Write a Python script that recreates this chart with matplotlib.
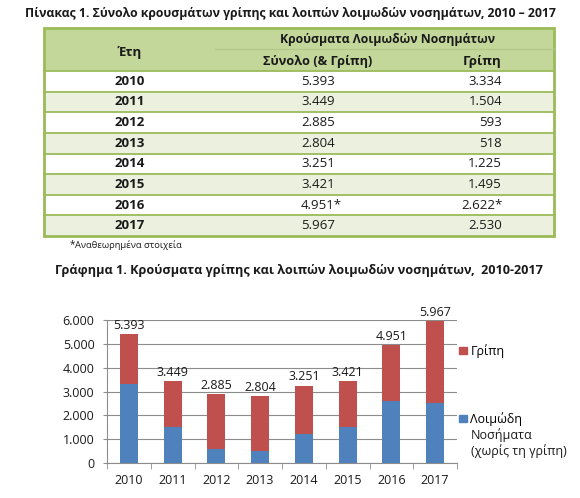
import matplotlib
matplotlib.use("Agg")
import matplotlib.pyplot as plt
from matplotlib.patches import Rectangle, Patch

plt.rcParams['font.family'] = ['Open Sans', 'DejaVu Sans']

# ---------------- data ----------------
years = ['2010', '2011', '2012', '2013', '2014', '2015', '2016', '2017']
total_cases = [5393, 3449, 2885, 2804, 3251, 3421, 4951, 5967]
flu_cases = [3334, 1504, 593, 518, 1225, 1495, 2622, 2530]
revised = [False, False, False, False, False, False, True, False]
y_ticks = [0, 1000, 2000, 3000, 4000, 5000, 6000]

table_title = "Πίνακας 1. Σύνολο κρουσμάτων γρίπης και λοιπών λοιμωδών νοσημάτων, 2010 – 2017"
chart_title = "Γράφημα 1. Κρούσματα γρίπης και λοιπών λοιμωδών νοσημάτων,  2010-2017"
col_year = "Έτη"
col_group = "Κρούσματα Λοιμωδών Νοσημάτων"
col_total = "Σύνολο (& Γρίπη)"
col_flu = "Γρίπη"
footnote = "Αναθεωρημένα στοιχεία"
legend_red = "Γρίπη"
legend_blue_lines = ["Λοιμώδη", "Νοσήματα", "(χωρίς τη γρίπη)"]


def fmt(v):
    return f"{v:,}".replace(",", ".")


W, H = 580, 498
fig = plt.figure(figsize=(W / 100, H / 100), dpi=100)
fig.patch.set_facecolor('white')

# overlay axes in pixel coordinates (y downward)
ov = fig.add_axes([0, 0, 1, 1])
ov.set_xlim(0, W)
ov.set_ylim(H, 0)
ov.axis('off')

renderer = fig.canvas.get_renderer()


def fit(t, width):
    bb = t.get_window_extent(renderer=renderer)
    t.set_fontsize(t.get_fontsize() * width / bb.width)


def left_px(t):
    bb = t.get_window_extent(renderer=renderer)
    return ov.transData.inverted().transform((bb.x0, bb.y0))[0]


txt = '#1a1a1a'
# ---------- table ----------
t = ov.text(25, 13, table_title, fontsize=10, fontweight='bold', ha='left', va='center', color=txt)
fit(t, 530)

green_border = '#9bbb59'
header_bg = '#c4d79b'
alt_bg = '#ebf1de'
tl, tr = 44, 554
ttop, hbot = 28, 71
row_h = (236 - 71) / 8

ov.add_patch(Rectangle((tl, ttop), tr - tl, hbot - ttop, facecolor=header_bg, edgecolor='none'))
for i in range(len(years)):
    y0 = hbot + i * row_h
    fc = 'white' if i % 2 == 0 else alt_bg
    ov.add_patch(Rectangle((tl, y0), tr - tl, row_h, facecolor=fc, edgecolor='none'))
    ov.plot([tl, tr], [y0, y0], color=green_border, lw=1.3)
ov.plot([215, tr], [49, 49], color='#b3c987', lw=1.0)
ov.add_patch(Rectangle((tl, ttop), tr - tl, hbot + 8 * row_h - ttop, facecolor='none',
                       edgecolor=green_border, lw=2.0))

cell_fs = 9.5
ov.text(130, 52, col_year, fontsize=cell_fs, fontweight='bold', ha='center', va='center', color=txt)
t = ov.text(388, 39, col_group, fontsize=cell_fs, fontweight='bold', ha='center', va='center', color=txt)
fit(t, 217)
ov.text(318, 61, col_total, fontsize=9.2, fontweight='bold', ha='center', va='center', color=txt)
ov.text(502, 61, col_flu, fontsize=cell_fs, fontweight='bold', ha='right', va='center', color=txt)

for i, (yr, tot, flu, rev) in enumerate(zip(years, total_cases, flu_cases, revised)):
    yc = hbot + (i + 0.5) * row_h
    ov.text(130, yc, yr, fontsize=cell_fs, fontweight='bold', ha='center', va='center', color=txt)
    t1 = ov.text(318, yc, fmt(tot), fontsize=cell_fs, ha='center', va='center', color=txt)
    if rev:
        x0 = left_px(t1)
        t1.set_text(fmt(tot) + '*')
        t1.set_ha('left')
        t1.set_x(x0)
        ov.text(503, yc, fmt(flu) + '*', fontsize=cell_fs, ha='right', va='center', color=txt)
    else:
        ov.text(502, yc, fmt(flu), fontsize=cell_fs, ha='right', va='center', color=txt)

ov.text(70, 245, '*', fontsize=7, ha='left', va='center', color=txt)
t = ov.text(75, 245, footnote, fontsize=7, ha='left', va='center', color=txt)
fit(t, 106)

t = ov.text(55, 270, chart_title, fontsize=9, fontweight='bold', ha='left', va='center', color=txt)
fit(t, 485)

# ---------- chart ----------
ax = fig.add_axes([107 / W, 1 - 463 / H, 350 / W, 143 / H])
blue = '#4f81bd'
red = '#c0504d'
fs = 9
x = list(range(len(years)))
other = [tot - flu for tot, flu in zip(total_cases, flu_cases)]
ax.bar(x, flu_cases, width=0.41, color=blue, zorder=3)
ax.bar(x, other, bottom=flu_cases, width=0.41, color=red, zorder=3)
for xi, tot in zip(x, total_cases):
    ax.annotate(fmt(tot), xy=(xi, tot), xytext=(0, 1.5), textcoords='offset points',
                ha='center', va='bottom', fontsize=fs, color=txt)

ax.set_xlim(-0.5, len(years) - 0.5)
ax.set_ylim(0, 6000)
ax.set_yticks(y_ticks)
ax.set_yticklabels([fmt(v) for v in y_ticks])
ax.yaxis.grid(True, color='#8c8c8c', lw=0.8, zorder=0)
ax.set_xticks(x)
ax.set_xticklabels(years)
ax.set_xticks([i + 0.5 for i in range(-1, len(years))], minor=True)
ax.tick_params(axis='x', which='major', length=0, pad=8, labelsize=fs, colors=txt)
ax.tick_params(axis='x', which='minor', length=4, color='#8c8c8c', direction='out')
ax.tick_params(axis='y', length=3, color='#8c8c8c', labelsize=fs, pad=6, labelcolor=txt)
for s in ['top', 'right']:
    ax.spines[s].set_visible(False)
for s in ['left', 'bottom']:
    ax.spines[s].set_color('#8c8c8c')
    ax.spines[s].set_linewidth(0.8)

leg1 = ax.legend(handles=[Patch(color=red, label=legend_red)], loc='center left',
                 bbox_to_anchor=(459 / W, 1 - 351 / H), bbox_transform=fig.transFigure,
                 frameon=False, handlelength=0.6, handleheight=0.6, handletextpad=0.3,
                 fontsize=fs, borderaxespad=0, borderpad=0)
ax.add_artist(leg1)
leg2 = ax.legend(handles=[Patch(color=blue, label=legend_blue_lines[0])], loc='center left',
                 bbox_to_anchor=(459 / W, 1 - 419 / H), bbox_transform=fig.transFigure,
                 frameon=False, handlelength=0.6, handleheight=0.6, handletextpad=0.3,
                 fontsize=fs, borderaxespad=0, borderpad=0)
for k, line in enumerate(legend_blue_lines[1:]):
    ov.text(471, 435 + 16 * k, line, fontsize=fs, ha='left', va='center', color=txt)

fig.savefig('out.png', dpi=100, facecolor='white')
